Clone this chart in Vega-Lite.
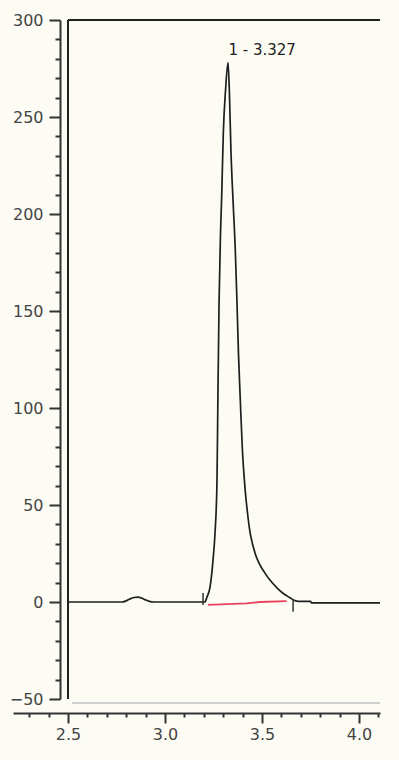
{
  "$schema": "https://vega.github.io/schema/vega-lite/v6.json",
  "width": 367,
  "height": 679,
  "autosize": {"type": "none"},
  "padding": {"left": 13, "top": 20, "right": 19, "bottom": 61},
  "background": "#fdfcf4",
  "config": {"view": {"stroke": null}, "font": "DejaVu Sans"},
  "datasets": {
    "trace": [
      {"rt": 2.5, "signal": 0}, {"rt": 2.78, "signal": 0}, {"rt": 2.8, "signal": 0.6},
      {"rt": 2.82, "signal": 1.6}, {"rt": 2.84, "signal": 2.3}, {"rt": 2.86, "signal": 2.5},
      {"rt": 2.88, "signal": 2.0}, {"rt": 2.9, "signal": 1.1}, {"rt": 2.92, "signal": 0.3},
      {"rt": 2.94, "signal": 0}, {"rt": 3.205, "signal": 0}, {"rt": 3.2165, "signal": 2.6},
      {"rt": 3.232, "signal": 7.7}, {"rt": 3.2474, "signal": 21.6}, {"rt": 3.2577, "signal": 35.6},
      {"rt": 3.2677, "signal": 61.3}, {"rt": 3.272, "signal": 100}, {"rt": 3.2784, "signal": 154},
      {"rt": 3.2863, "signal": 191}, {"rt": 3.2923, "signal": 210}, {"rt": 3.3005, "signal": 241.8},
      {"rt": 3.312, "signal": 264}, {"rt": 3.3247, "signal": 278}, {"rt": 3.332, "signal": 262},
      {"rt": 3.340, "signal": 232}, {"rt": 3.352, "signal": 204}, {"rt": 3.362, "signal": 182},
      {"rt": 3.371, "signal": 154}, {"rt": 3.379, "signal": 127}, {"rt": 3.388, "signal": 104},
      {"rt": 3.398, "signal": 80}, {"rt": 3.412, "signal": 59}, {"rt": 3.425, "signal": 46},
      {"rt": 3.438, "signal": 36}, {"rt": 3.452, "signal": 29.5}, {"rt": 3.468, "signal": 24},
      {"rt": 3.49, "signal": 19}, {"rt": 3.515, "signal": 14.9}, {"rt": 3.545, "signal": 10.8},
      {"rt": 3.582, "signal": 6.8}, {"rt": 3.615, "signal": 4}, {"rt": 3.644, "signal": 2.2},
      {"rt": 3.665, "signal": 0.9}, {"rt": 3.69, "signal": 0.3},
      {"rt": 3.75, "signal": 0.3}, {"rt": 3.755, "signal": -0.5}, {"rt": 4.108, "signal": -0.5}
    ],
    "baseline": [
      {"rt": 3.222, "signal": -1.5}, {"rt": 3.32, "signal": -1.1}, {"rt": 3.421, "signal": -0.7},
      {"rt": 3.49, "signal": 0}, {"rt": 3.627, "signal": 0.5}
    ],
    "markers": [
      {"rt": 3.196, "lo": -1.5, "hi": 4.6},
      {"rt": 3.66, "lo": -5, "hi": 1}
    ],
    "peaks": [
      {"rt": 3.327, "height": 278, "label": "1 - 3.327"}
    ],
    "frame": [{}]
  },
  "layer": [
    {
      "data": {"name": "trace"},
      "mark": {"type": "line", "color": "#1e1e1e", "strokeWidth": 1.7, "interpolate": "monotone"},
      "encoding": {
        "x": {
          "field": "rt", "type": "quantitative",
          "scale": {"domain": [2.2165, 4.108], "nice": false, "zero": false},
          "axis": {
            "orient": "bottom", "offset": 14, "values": [2.5, 3.0, 3.5, 4.0], "format": ".1f",
            "tickSize": 10, "tickWidth": 2, "tickColor": "#333", "domainColor": "#333", "domainWidth": 2,
            "labelFontSize": 16, "labelColor": "#444", "labelPadding": 3, "title": null, "grid": false
          }
        },
        "y": {
          "field": "signal", "type": "quantitative",
          "scale": {"domain": [-50, 300], "nice": false, "zero": false},
          "axis": {
            "orient": "left", "offset": -47, "values": [-50, 0, 50, 100, 150, 200, 250, 300],
            "tickSize": 11, "tickWidth": 2, "tickColor": "#333", "domainColor": "#333", "domainWidth": 2,
            "labelFontSize": 16, "labelColor": "#444", "labelPadding": 6, "title": null, "grid": false
          }
        }
      }
    },
    {
      "data": {"name": "trace"},
      "mark": {"type": "line", "strokeOpacity": 0},
      "encoding": {
        "x": {
          "field": "rt", "type": "quantitative",
          "axis": {
            "orient": "bottom", "offset": 14,
            "values": [2.3, 2.4, 2.6, 2.7, 2.8, 2.9, 3.1, 3.2, 3.3, 3.4, 3.6, 3.7, 3.8, 3.9, 4.1],
            "labels": false, "domain": false, "tickSize": 4, "tickWidth": 2, "tickColor": "#333",
            "title": null, "grid": false
          }
        },
        "y": {
          "field": "signal", "type": "quantitative",
          "axis": {
            "orient": "left", "offset": -47,
            "values": [-40, -30, -20, -10, 10, 20, 30, 40, 60, 70, 80, 90, 110, 120, 130, 140, 160, 170, 180, 190, 210, 220, 230, 240, 260, 270, 280, 290],
            "labels": false, "domain": false, "tickSize": 5, "tickWidth": 2, "tickColor": "#333",
            "title": null, "grid": false
          }
        }
      }
    },
    {
      "data": {"name": "baseline"},
      "mark": {"type": "line", "color": "#e8405a", "strokeWidth": 1.8},
      "encoding": {
        "x": {"field": "rt", "type": "quantitative", "axis": null},
        "y": {"field": "signal", "type": "quantitative", "axis": null}
      }
    },
    {
      "data": {"name": "markers"},
      "mark": {"type": "rule", "color": "#333", "strokeWidth": 1.5},
      "encoding": {
        "x": {"field": "rt", "type": "quantitative", "axis": null},
        "y": {"field": "lo", "type": "quantitative", "axis": null},
        "y2": {"field": "hi"}
      }
    },
    {
      "data": {"name": "frame"},
      "mark": {"type": "rule", "color": "#222", "strokeWidth": 2},
      "encoding": {
        "x": {"datum": 2.5, "type": "quantitative", "axis": null},
        "x2": {"datum": 4.108},
        "y": {"datum": 300, "type": "quantitative", "axis": null}
      }
    },
    {
      "data": {"name": "frame"},
      "mark": {"type": "rule", "color": "#222", "strokeWidth": 2},
      "encoding": {
        "x": {"datum": 2.5, "type": "quantitative", "axis": null},
        "y": {"datum": -50, "type": "quantitative", "axis": null},
        "y2": {"datum": 300}
      }
    },
    {
      "data": {"name": "frame"},
      "mark": {"type": "rule", "color": "#cfcfcf", "strokeWidth": 2},
      "encoding": {
        "x": {"datum": 2.52, "type": "quantitative", "axis": null},
        "x2": {"datum": 4.108},
        "y": {"datum": -52, "type": "quantitative", "axis": null}
      }
    },
    {
      "data": {"name": "peaks"},
      "mark": {"type": "text", "align": "left", "baseline": "alphabetic", "dy": -8, "fontSize": 15, "color": "#222"},
      "encoding": {
        "x": {"field": "rt", "type": "quantitative", "axis": null},
        "y": {"field": "height", "type": "quantitative", "axis": null},
        "text": {"field": "label"}
      }
    }
  ],
  "resolve": {"axis": {"x": "independent", "y": "independent"}}
}
